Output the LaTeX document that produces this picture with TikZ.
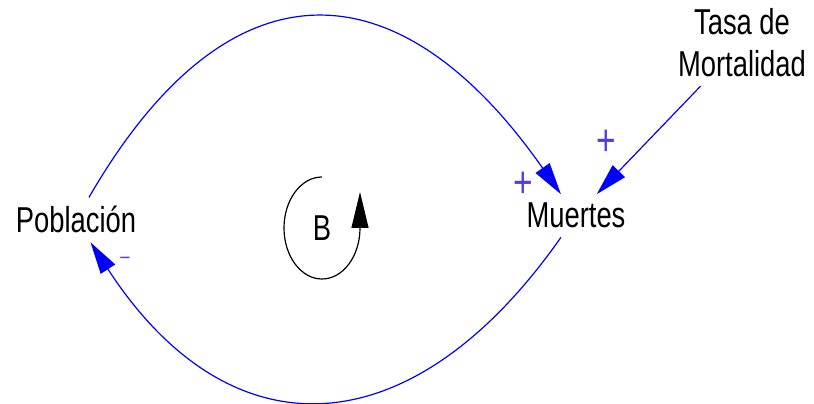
\documentclass[tikz,border=0pt]{standalone}
\usepackage{fontspec}
\newfontfamily\lblfont[FakeStretch=0.76]{Liberation Sans}
\usetikzlibrary{arrows.meta}
\definecolor{linkblue}{RGB}{0,0,255}
\definecolor{signblue}{RGB}{85,60,230}
\begin{document}
\begin{tikzpicture}[
    x=1pt, y=1pt,
    lbl/.style={align=center, inner sep=5pt, outer sep=4pt, font=\lblfont\fontsize{36}{42}\selectfont},
    sign/.style={inner sep=0pt, text=signblue, font=\lblfont\fontsize{44}{48}\selectfont},
    arr/.style={-{Triangle[length=32pt,width=17pt]}, linkblue, line width=1.2pt},
    loopline/.style={-{Triangle[length=36pt,width=17pt]}, black, line width=1.2pt}
  ]
    \useasboundingbox (0,0) rectangle (814,404);
    \node[lbl, anchor=base] (pob) at (76,171) {Población};
    \node[lbl, anchor=base] (mue) at (576,176) {Muertes};
    \node[lbl] (tasa) at (742,361) {Tasa de\\Mortalidad};
    \node[lbl, inner sep=0pt, outer sep=0pt] (B) at (322,176) {B};

    \draw[arr] (pob) to[out=60, in=125, looseness=1.52] (mue);
    \draw[arr] (mue) to[out=-125, in=-57, looseness=1.4] (pob);
    \draw[arr] (tasa) -- (mue);
    % loop sign in the middle
    \draw[loopline] ([yshift=51pt]B.center) arc[start angle=90, end angle=360, x radius=38pt, y radius=51pt] -- ++(0,36);

    \node[sign] (p1) at (523,219.5) {+};
    \node[sign] (p2) at (606,261.5) {+};
    \node[sign, font=\lblfont\fontsize{22}{24}\selectfont] (m1) at (125,143.4) {–};
\end{tikzpicture}
\end{document}
